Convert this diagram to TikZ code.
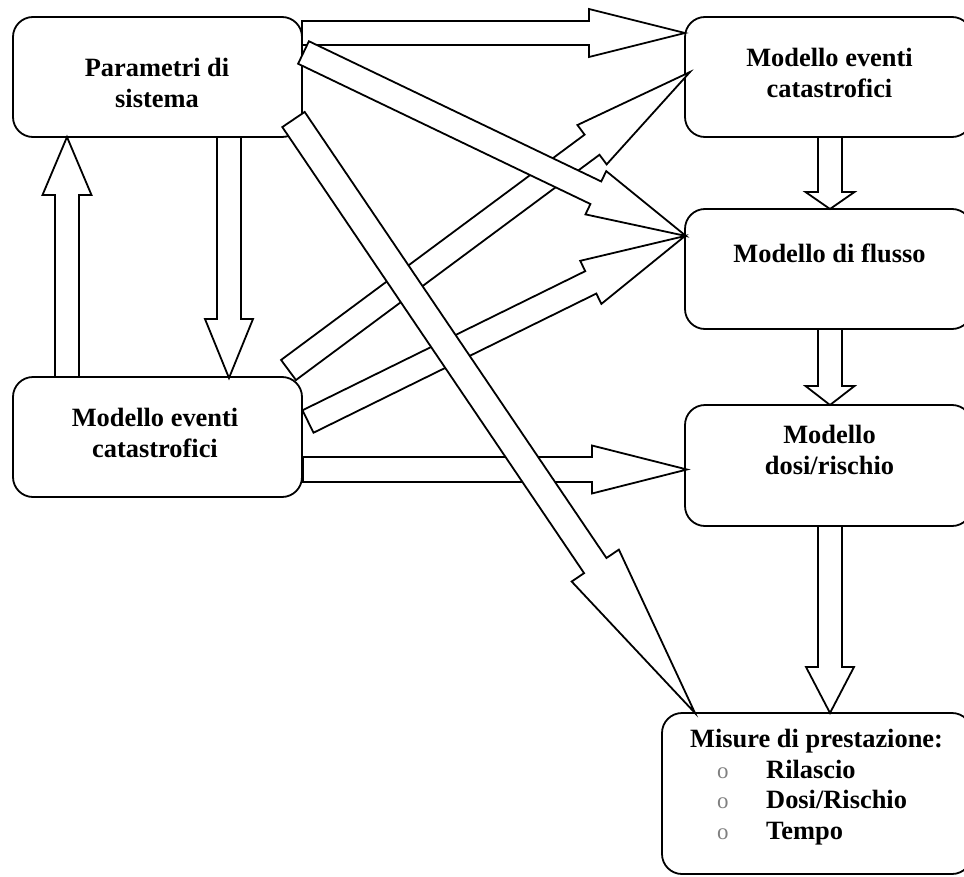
\documentclass[tikz,border=0pt]{standalone}
\usepackage{fontspec}
\setmainfont{Liberation Serif}
\usetikzlibrary{calc}
\definecolor{bulletgray}{gray}{0.5}
\tikzset{
  box/.style={draw, line width=1.8bp, rounded corners=20bp, inner sep=0pt, outer sep=0pt},
  boxtext/.style={font=\fontsize{26.5}{31}\selectfont\bfseries, align=center, inner sep=0pt, anchor=base},
  listtext/.style={font=\fontsize{26.5}{30.5}\selectfont\bfseries, align=left, inner sep=0pt, anchor=base west},
  barrow/.style={draw, fill=white, line width=1.8bp, line join=miter},
}
% block arrow: #1 start, #2 tip, #3 shaft half width, #4 head half width, #5 head length (bp)
\newcommand\blockarrow[5]{%
  \coordinate (ba-b) at ($(#2)!#5bp!(#1)$);
  \draw[barrow] ($(#1)!#3bp!90:(#2)$) -- ($(ba-b)!#3bp!90:(#2)$) -- ($(ba-b)!#4bp!90:(#2)$)
    -- (#2) -- ($(ba-b)!#4bp!-90:(#2)$) -- ($(ba-b)!#3bp!-90:(#2)$) -- ($(#1)!#3bp!-90:(#2)$) -- cycle;
}
\newcommand\bul{\makebox[49bp][l]{\color{bulletgray}\mdseries\fontsize{23}{30.5}\selectfont o}}
\begin{document}
\begin{tikzpicture}[x=1bp,y=-1bp]
\useasboundingbox (0,0) rectangle (964,877);

% boxes
\node[box, minimum width=289bp, minimum height=120bp] (A) at (157.5,77) {};
\node[box, minimum width=289bp, minimum height=120bp] (B) at (157.5,437) {};
\node[box, minimum width=287bp, minimum height=120bp] (C) at (828.5,77) {};
\node[box, minimum width=287bp, minimum height=120bp] (D) at (828.5,269) {};
\node[box, minimum width=287bp, minimum height=121bp] (E) at (828.5,465.5) {};
\node[box, minimum width=310bp, minimum height=161bp] (F) at (817,793.5) {};

% texts
\node[boxtext] (At) at (157,107) {Parametri di\\sistema};
\node[boxtext] (Bt) at (155,457) {Modello eventi\\catastrofici};
\node[boxtext] (Ct) at (829.5,97) {Modello eventi\\catastrofici};
\node[boxtext] (Dt) at (829.5,262) {Modello di flusso};
\node[boxtext] (Et) at (829.5,474) {Modello\\dosi/rischio};
\node[boxtext, anchor=base west] (Ft) at (690,747) {Misure di prestazione:};
\node[listtext] (Fl) at (717,839) {\bul Rilascio\\\bul Dosi/Rischio\\\bul Tempo};

% arrow end points
\coordinate (a1s) at ($(A.east)+(0,-44)$);
\coordinate (a1t) at ($(C.west)+(0,-44)$);
\coordinate (a2s) at ($(A.east)+(1.5,-24.5)$);
\coordinate (a2t) at ($(D.west)+(1,-33)$);
\coordinate (a3s) at ($(A.east)+(-8.5,42.5)$);
\coordinate (a3t) at ($(F.north west)+(33,0)$);
\coordinate (a4s) at ($(B.north east)+(-13.5,-7)$);
\coordinate (a4t) at ($(C.west)+(5,-5)$);
\coordinate (a5s) at ($(B.east)+(6,-15.5)$);
\coordinate (a5t) at ($(D.west)+(0,-33)$);
\coordinate (a6s) at ($(B.east)+(1,32.5)$);
\coordinate (a6t) at ($(E.west)+(2,4)$);
\coordinate (a7s) at ($(B.north west)+(54,0)$);
\coordinate (a7t) at ($(A.south west)+(54,0)$);
\coordinate (a8s) at ($(A.south west)+(216,0)$);
\coordinate (a8t) at ($(B.north west)+(216,1)$);
\coordinate (a9s) at ($(C.south)+(1.5,0)$);
\coordinate (a9t) at ($(D.north)+(1.5,0)$);
\coordinate (a10s) at ($(D.south)+(1.5,0)$);
\coordinate (a10t) at ($(E.north)+(1.5,0)$);
\coordinate (a11s) at ($(E.south)+(1.5,0)$);
\coordinate (a11t) at ($(F.north)+(13,0)$);

% block arrows
\blockarrow{a1s}{a1t}{12}{24}{96}
\blockarrow{a6s}{a6t}{12.5}{24}{95}
\blockarrow{a5s}{a5t}{12.5}{24}{105}
\blockarrow{a4s}{a4t}{12.5}{24.5}{122}
\blockarrow{a2s}{a2t}{12.5}{24}{100}
\blockarrow{a3s}{a3t}{13.5}{28.5}{178}
\blockarrow{a7s}{a7t}{12}{24.5}{58}
\blockarrow{a8s}{a8t}{12}{24}{59}
\blockarrow{a9s}{a9t}{12}{24.5}{17}
\blockarrow{a10s}{a10t}{12}{24.5}{19}
\blockarrow{a11s}{a11t}{12}{24}{46}
\end{tikzpicture}
\end{document}
